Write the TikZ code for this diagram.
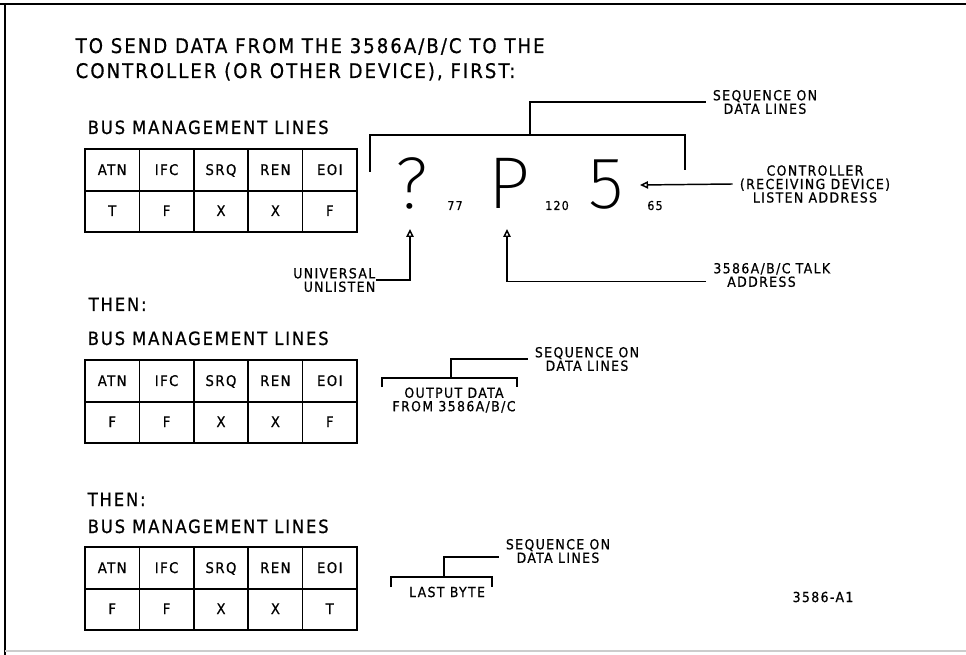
\documentclass[tikz,border=0pt]{standalone}
\usepackage{fontspec}
\setmainfont{DejaVu Sans Condensed}[LetterSpace=10]
\newfontfamily\medfont{DejaVu Sans Condensed}[LetterSpace=10, FakeBold=0.7]
\newfontfamily\segfont{Fira Sans ExtraLight}
\usetikzlibrary{arrows.meta}

\tikzset{
  hdg/.style={anchor=base west, inner sep=0pt, font=\medfont\fontsize{13.7}{15}\selectfont},
  lbl/.style={inner xsep=5pt, inner ysep=1pt, align=center, font=\medfont\fontsize{10.4}{10.1}\selectfont},
  cellt/.style={anchor=base, inner sep=0pt, font=\medfont\fontsize{11}{12}\selectfont},
  tiny/.style={anchor=base, inner sep=0pt, font=\medfont\fontsize{9.2}{10}\selectfont},
  big/.style={anchor=base, inner sep=0pt, font=\segfont\fontsize{55}{60}\selectfont},
  opentip/.style={-{Triangle[open,length=6pt,width=5.5pt]}},
}

\begin{document}
\begin{tikzpicture}[x=0.75pt, y=-0.75pt, line width=1.1pt]
	\useasboundingbox (0,0) rectangle (966,655);
	% frame
	\draw[line width=2.2pt] (0,4) -- (966,4);
	\draw[line width=1.6pt] (5,4) -- (5,655);
	\draw[gray!40, line width=1pt] (5,651) -- (966,651);

	\node[anchor=base west, inner sep=0pt, font=\medfont\fontsize{15.1}{16}\selectfont] (title1) at (75,53) {TO SEND DATA FROM THE 3586A/B/C TO THE};
	\node[anchor=base west, inner sep=0pt, font=\medfont\fontsize{15.1}{16}\selectfont] (title2) at (75,78) {CONTROLLER (OR OTHER DEVICE), FIRST:};

	\node[hdg] (bus1) at (87,134) {BUS MANAGEMENT LINES};
	\node[hdg] (then2) at (88,311) {THEN:};
	\node[hdg] (bus2) at (87,345) {BUS MANAGEMENT LINES};
	\node[hdg] (then3) at (87,506) {THEN:};
	\node[hdg] (bus3) at (87,533) {BUS MANAGEMENT LINES};

	% the three tables
	\foreach \ty/\tn/\vals in {149/a/{T,F,X,X,F}, 360/b/{F,F,X,X,F}, 547/c/{F,F,X,X,T}} {
		\draw (85,\ty) rectangle (357,{\ty+83});
		\draw (85,{\ty+42}) -- (357,{\ty+42});
		\foreach \i in {1,...,4}
			\draw ({85+54.4*\i},\ty) -- ({85+54.4*\i},{\ty+83});
		\foreach \h [count=\i] in {ATN,IFC,SRQ,REN,EOI}
			\node[cellt] (h\tn\i) at ({85+54.4*(\i-0.5)},{\ty+26}) {\h};
		\foreach \v [count=\i] in \vals
			\node[cellt] (v\tn\i) at ({85+54.4*(\i-0.5)},{\ty+67}) {\v};
	}

	% first sequence
	\node[big] (qmark) at (412,209) {?};
	\node[big] (pchar) at (509,209) {P};
	\node[big] (fivechar) at (606,209) {5};
	\node[tiny] (n77) at (455,210) {77};
	\node[tiny] (n120) at (557,210) {120};
	\node[tiny] (n65) at (655,210) {65};

	\node[lbl] (seq1) at (765,102) {SEQUENCE ON\\DATA LINES};
	\node[lbl] (ctrl) at (815,184) {CONTROLLER\\(RECEIVING DEVICE)\\LISTEN ADDRESS};
	\node[lbl, align=left, anchor=west] (talk) at (706,275) {3586A/B/C TALK\\\hspace*{1em}ADDRESS};
	\node[lbl, align=right, anchor=east, inner xsep=0pt] (univ) at (376,280) {UNIVERSAL\\UNLISTEN};

	\coordinate (b1l) at (370,172);
	\coordinate (b1r) at (685,170);
	\coordinate (b1m) at (530,135);
	\coordinate (qtip) at (410,229);
	\coordinate (ptip) at (507,229);
	\coordinate (ctip) at (640,185);

	\draw (b1l) |- (b1m) -| (b1r);
	\draw (b1m) |- (seq1.west);
	\draw[opentip] (ctrl.west) -- (ctip);
	\draw[opentip] (univ.east) -| (qtip);
	\draw[opentip] ([yshift=-4.9pt]talk.west) -| (ptip);

	% second sequence
	\node[lbl] (seq2) at (587,359) {SEQUENCE ON\\DATA LINES};
	\node[lbl] (outd) at (454,400) {OUTPUT DATA\\FROM 3586A/B/C};
	\coordinate (b2l) at (382,387);
	\coordinate (b2r) at (517,387);
	\coordinate (b2m) at (451,378);
	\draw (b2l) |- (b2m) -| (b2r);
	\draw (b2m) |- (seq2.west);

	% third sequence
	\node[lbl] (seq3) at (558,551) {SEQUENCE ON\\DATA LINES};
	\node[lbl] (last) at (447,592) {LAST BYTE};
	\coordinate (b3l) at (391,587);
	\coordinate (b3r) at (492,587);
	\coordinate (b3m) at (444,577);
	\draw (b3l) |- (b3m) -| (b3r);
	\draw (b3m) |- ([yshift=-4.5pt]seq3.west);

	\node[lbl] (figno) at (823,597) {3586-A1};
\end{tikzpicture}
\end{document}
